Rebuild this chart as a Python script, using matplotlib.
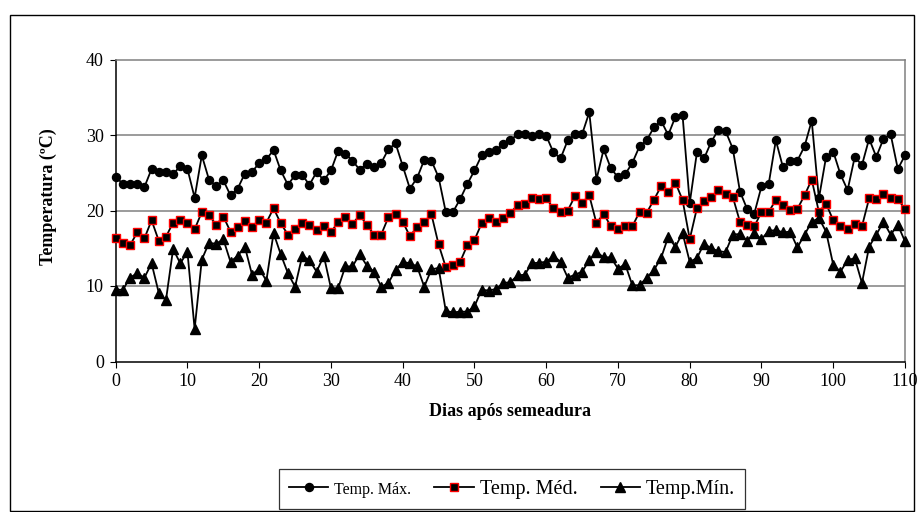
import matplotlib
matplotlib.use("Agg")
import matplotlib.pyplot as plt
from matplotlib.lines import Line2D
from matplotlib.patches import Rectangle
import numpy as np

plt.rcParams["font.family"] = ["Liberation Serif", "DejaVu Serif"]

# Daily temperatures (ºC), days 0..110 after sowing
days = np.arange(0, 111)

temp_max = [
    24.5, 23.5, 23.5, 23.5, 23.1, 25.5, 25.1, 25.1, 24.8, 25.9,
    25.5, 21.7, 27.3, 24.1, 23.2, 24.0, 22.0, 22.9, 24.9, 25.1,
    26.3, 26.8, 28.0, 25.3, 23.4, 24.7, 24.7, 23.4, 25.1, 24.0,
    25.3, 27.9, 27.5, 26.6, 25.4, 26.2, 25.7, 26.3, 28.1, 28.9,
    25.9, 22.9, 24.3, 26.7, 26.6, 24.4, 19.8, 19.8, 21.5, 23.5,
    25.3, 27.3, 27.7, 28.0, 28.8, 29.3, 30.1, 30.1, 29.9, 30.1,
    29.9, 27.7, 26.9, 29.3, 30.1, 30.1, 33.0, 24.1, 28.1, 25.6,
    24.4, 24.8, 26.3, 28.5, 29.3, 31.0, 31.9, 30.0, 32.4, 32.6,
    21.0, 27.7, 26.9, 29.1, 30.7, 30.5, 28.2, 22.5, 20.2, 19.6,
    23.2, 23.5, 29.3, 25.7, 26.6, 26.6, 28.5, 31.9, 21.6, 27.1,
    27.8, 24.8, 22.7, 27.1, 26.0, 29.5, 27.1, 29.5, 30.1, 25.5,
    27.3,
]

temp_med = [
    16.4, 15.7, 15.4, 17.1, 16.3, 18.7, 16.0, 16.5, 18.4, 18.7,
    18.4, 17.5, 19.8, 19.4, 18.1, 19.2, 17.2, 17.8, 18.6, 17.8,
    18.8, 18.4, 20.3, 18.3, 16.8, 17.6, 18.4, 18.1, 17.4, 17.9,
    17.1, 18.5, 19.2, 18.2, 19.4, 18.1, 16.8, 16.8, 19.1, 19.6,
    18.5, 16.6, 17.8, 18.5, 19.5, 15.5, 12.5, 12.8, 13.2, 15.4,
    16.1, 18.3, 19.0, 18.5, 19.0, 19.7, 20.7, 20.9, 21.6, 21.5,
    21.6, 20.3, 19.8, 20.0, 21.9, 21.0, 22.0, 18.3, 19.6, 17.9,
    17.6, 17.9, 17.9, 19.8, 19.7, 21.4, 23.2, 22.4, 23.7, 21.4,
    16.2, 20.3, 21.2, 21.8, 22.7, 22.2, 21.8, 18.5, 18.1, 17.9,
    19.8, 19.8, 21.4, 20.7, 20.1, 20.2, 22.0, 24.1, 19.8, 20.9,
    18.7, 17.9, 17.6, 18.2, 17.9, 21.6, 21.5, 22.2, 21.7, 21.5,
    20.2,
]

temp_min = [
    9.5, 9.5, 11.1, 11.7, 11.1, 13.0, 9.1, 8.1, 14.9, 13.0,
    14.5, 4.3, 13.5, 15.7, 15.6, 16.2, 13.2, 14.0, 15.2, 11.5,
    12.3, 10.7, 17.0, 14.2, 11.7, 9.9, 14.0, 13.4, 11.9, 14.0,
    9.7, 9.7, 12.6, 12.6, 14.2, 12.7, 11.9, 9.9, 10.4, 12.1,
    13.2, 13.0, 12.6, 9.9, 12.2, 12.4, 6.7, 6.5, 6.6, 6.6,
    7.3, 9.5, 9.4, 9.6, 10.4, 10.5, 11.4, 11.5, 13.0, 13.1,
    13.2, 14.0, 13.2, 11.1, 11.5, 11.9, 13.4, 14.5, 13.8, 13.8,
    12.3, 12.9, 10.1, 10.1, 11.1, 12.1, 13.7, 16.5, 15.2, 17.0,
    13.2, 13.7, 15.6, 15.0, 14.6, 14.5, 16.8, 16.9, 16.0, 17.0,
    16.2, 17.3, 17.4, 17.1, 17.2, 15.1, 16.8, 18.5, 19.0, 17.2,
    12.8, 11.9, 13.4, 13.7, 10.4, 15.2, 16.8, 18.5, 16.8, 18.1,
    15.9,
]

labels = ["Temp. Máx.", "Temp. Méd.", "Temp.Mín."]

fig = plt.figure(figsize=(9.23, 5.12), dpi=100)
ax = fig.add_axes([115.7 / 923, 1 - 361.5 / 512, (905 - 115.7) / 923, (361.5 - 59.5) / 512])

line_kw = dict(color="black", linewidth=1.3, clip_on=False, zorder=3)
ax.plot(days, temp_max, marker="o", markersize=5.8, markerfacecolor="black",
        markeredgecolor="black", **line_kw)
ax.plot(days, temp_med, marker="s", markersize=5.6, markerfacecolor="black",
        markeredgecolor="red", markeredgewidth=1.0, **line_kw)
ax.plot(days, temp_min, marker="^", markersize=6.8, markerfacecolor="black",
        markeredgecolor="black", **line_kw)

ax.set_xlim(0, 110)
ax.set_ylim(0, 40)
ax.set_xticks(range(0, 111, 10))
ax.set_yticks(range(0, 41, 10))
ax.tick_params(direction="out", length=4.5, width=0.8, labelsize=13, pad=4)

# gridlines and Excel-like plot area border
for v in (10, 20, 30):
    ax.axhline(v, color="#808080", linewidth=1.1, zorder=1)
ax.spines["left"].set_color("black")
ax.spines["bottom"].set_color("black")
ax.spines["top"].set_color("#808080")
ax.spines["right"].set_color("#808080")
for s in ax.spines.values():
    s.set_linewidth(1.1)

fig.text(48 / 923, 1 - 197 / 512, "Temperatura (ºC)", rotation=90,
         ha="center", va="center", fontsize=13, fontweight="bold")
fig.text(510 / 923, 1 - 412 / 512, "Dias após semeadura",
         ha="center", va="center", fontsize=13, fontweight="bold")

handles = [
    Line2D([], [], color="black", linewidth=1.3, marker="o", markersize=5.8),
    Line2D([], [], color="black", linewidth=1.3, marker="s", markersize=5.6,
           markerfacecolor="black", markeredgecolor="red", markeredgewidth=1.0),
    Line2D([], [], color="black", linewidth=1.3, marker="^", markersize=6.8),
]
leg = fig.legend(handles, labels, ncol=3, loc="center",
                 bbox_to_anchor=(512 / 923, 1 - 489 / 512),
                 fontsize=14.5, frameon=True, fancybox=False, shadow=False,
                 edgecolor="black", handlelength=1.95, handletextpad=0.3,
                 columnspacing=1.15, borderpad=0.5)
leg.get_frame().set_linewidth(0.9)
leg.get_texts()[0].set_fontsize(11.5)

# outer chart border
fig.add_artist(Rectangle((10 / 923, 1 - 511 / 512), 904 / 923, 496 / 512,
                         transform=fig.transFigure, fill=False,
                         edgecolor="black", linewidth=1.0))

fig.savefig("out.png", dpi=100)
